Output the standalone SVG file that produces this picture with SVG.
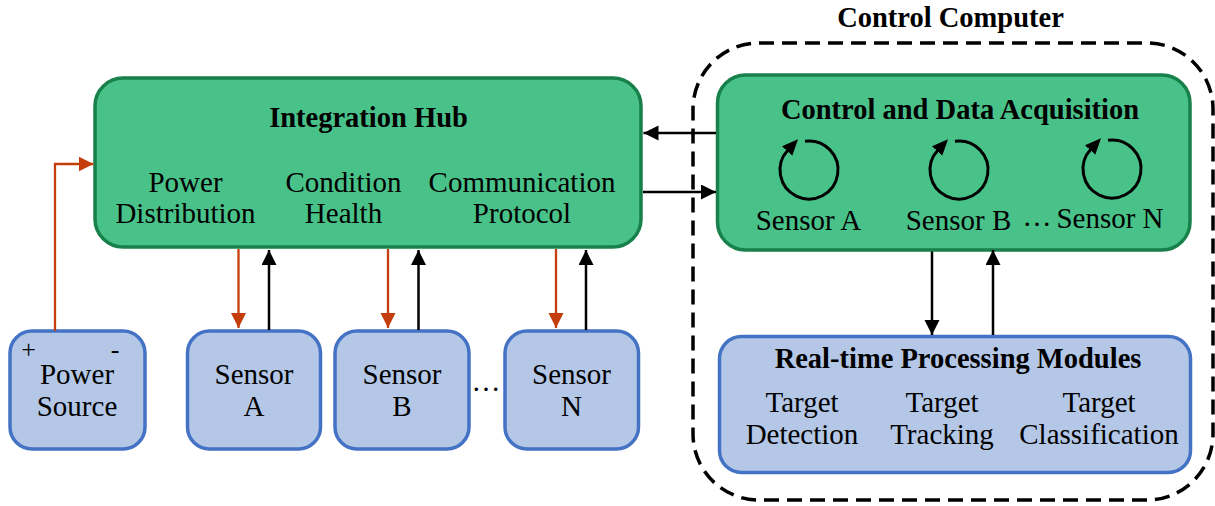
<svg xmlns="http://www.w3.org/2000/svg" width="1215" height="506" viewBox="0 0 1215 506">
<style>
text{font-family:'Liberation Serif','DejaVu Serif',serif;fill:#000;text-anchor:middle}
.b{font-weight:bold;font-size:28.5px}
.r{font-size:29px}
.s{font-size:26px}
.green{fill:#49c28a;stroke:#18804a;stroke-width:3.5}
.blue{fill:#b4c7e7;stroke:#4472c4;stroke-width:3.5}
.blk{fill:none;stroke:#000;stroke-width:2.5}
.red{fill:none;stroke:#c43d0c;stroke-width:2.3}
.circ{fill:none;stroke:#000;stroke-width:3}
.dash{fill:none;stroke:#000;stroke-width:3.5;stroke-dasharray:15 8}
</style>
<defs>
<marker id="ab" markerUnits="userSpaceOnUse" markerWidth="16" markerHeight="16" refX="15" refY="7.5" orient="auto"><path d="M0,0 L15,7.5 L0,15 z" fill="#000"/></marker>
<marker id="ar" markerUnits="userSpaceOnUse" markerWidth="16" markerHeight="16" refX="15" refY="7.5" orient="auto"><path d="M0,0 L15,7.5 L0,15 z" fill="#c43d0c"/></marker>
<marker id="ac" markerUnits="userSpaceOnUse" markerWidth="17" markerHeight="15" refX="1" refY="7" orient="auto"><path d="M0,0 L16,7 L0,14 z" fill="#000"/></marker>
</defs>

<g id="control-computer">
<rect class="dash" x="693" y="43" width="520" height="457" rx="66" ry="66"/>
<text class="b" x="950.5" y="27">Control Computer</text>
</g>

<g id="integration-hub">
<rect class="green" x="95" y="78" width="546" height="169" rx="28" ry="28"/>
<text class="b" x="368.5" y="127">Integration Hub</text>
<text class="r" x="185.5" y="192">Power</text>
<text class="r" x="185.5" y="223">Distribution</text>
<text class="r" x="343.5" y="192">Condition</text>
<text class="r" x="343.5" y="223">Health</text>
<text class="r" x="522" y="192">Communication</text>
<text class="r" x="522" y="223">Protocol</text>
</g>

<g id="control-data-acquisition">
<rect class="green" x="717.5" y="75" width="472.5" height="175" rx="28" ry="28"/>
<text class="b" x="960" y="119">Control and Data Acquisition</text>
<path class="circ" d="M804.96,141.28 A29,29 0 1 1 787.79,150.22" marker-end="url(#ac)"/>
<path class="circ" d="M954.96,141.28 A29,29 0 1 1 937.79,150.22" marker-end="url(#ac)"/>
<path class="circ" d="M1107.96,140.28 A29,29 0 1 1 1090.79,149.22" marker-end="url(#ac)"/>
<text class="r" x="808.5" y="230">Sensor A</text>
<text class="r" x="958.5" y="230">Sensor B</text>
<text class="r" x="1037" y="226">…</text>
<text class="r" x="1110" y="228">Sensor N</text>
</g>

<g id="realtime-processing">
<rect class="blue" x="719.5" y="336.5" width="471" height="136" rx="22" ry="22"/>
<text class="b" x="958" y="368">Real-time Processing Modules</text>
<text class="r" x="802" y="412">Target</text>
<text class="r" x="802" y="444">Detection</text>
<text class="r" x="942" y="412">Target</text>
<text class="r" x="942" y="444">Tracking</text>
<text class="r" x="1099" y="412">Target</text>
<text class="r" x="1099" y="444">Classification</text>
</g>

<g id="power-source">
<rect class="blue" x="10" y="331" width="135" height="118" rx="22" ry="22"/>
<text class="s" x="28.5" y="358">+</text>
<text class="s" x="115" y="358">-</text>
<text class="r" x="77" y="384">Power</text>
<text class="r" x="77" y="416">Source</text>
</g>

<g id="sensor-a">
<rect class="blue" x="187.5" y="331" width="133" height="118" rx="22" ry="22"/>
<text class="r" x="254" y="384">Sensor</text>
<text class="r" x="254" y="416">A</text>
</g>

<g id="sensor-b">
<rect class="blue" x="335" y="331" width="134" height="118" rx="22" ry="22"/>
<text class="r" x="402" y="384">Sensor</text>
<text class="r" x="402" y="416">B</text>
</g>

<g id="sensor-dots">
<text class="r" x="486" y="391">…</text>
</g>

<g id="sensor-n">
<rect class="blue" x="505" y="331" width="133.5" height="118" rx="22" ry="22"/>
<text class="r" x="571.5" y="384">Sensor</text>
<text class="r" x="571.5" y="416">N</text>
</g>

<g id="connectors">
<path class="red" d="M55,331 V164 H93.5" marker-end="url(#ar)"/>
<path class="red" d="M238.5,249 V328" marker-end="url(#ar)"/>
<path class="blk" d="M269,330 V250" marker-end="url(#ab)"/>
<path class="red" d="M388,249 V328" marker-end="url(#ar)"/>
<path class="blk" d="M418.5,330 V250" marker-end="url(#ab)"/>
<path class="red" d="M556,249 V328" marker-end="url(#ar)"/>
<path class="blk" d="M586,330 V250" marker-end="url(#ab)"/>
<path class="blk" d="M716,133 H643.5" marker-end="url(#ab)"/>
<path class="blk" d="M643,192 H716" marker-end="url(#ab)"/>
<path class="blk" d="M932,251.5 V335" marker-end="url(#ab)"/>
<path class="blk" d="M993,335 V250" marker-end="url(#ab)"/>
</g>
</svg>
